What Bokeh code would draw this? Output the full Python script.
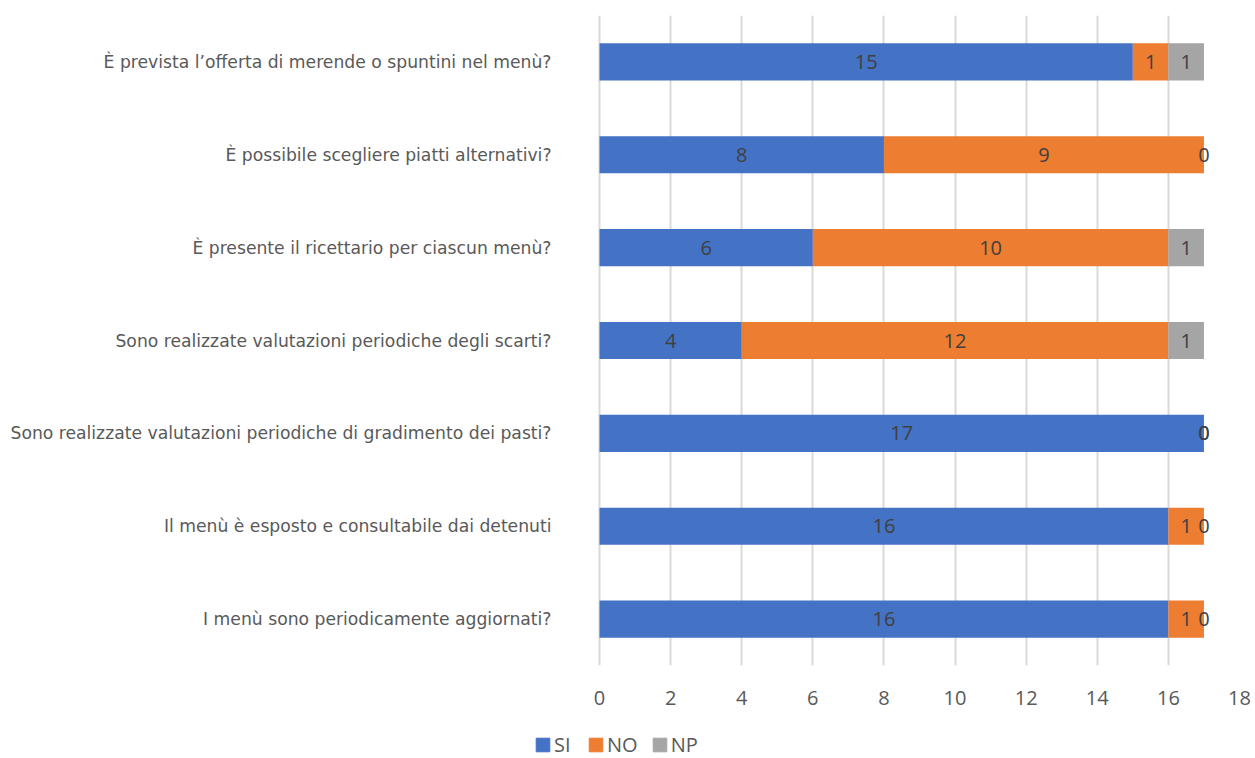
from bokeh.plotting import figure
from bokeh.layouts import column
from bokeh.models import ColumnDataSource, Legend, LegendItem, FixedTicker, Range1d, FactorRange
from bokeh.core.properties import value
from bokeh.embed import file_html
from bokeh.resources import INLINE

categories = [
    "È prevista l’offerta di merende o spuntini nel menù?",
    "È possibile scegliere piatti alternativi?",
    "È presente il ricettario per ciascun menù?",
    "Sono realizzate valutazioni periodiche degli scarti?",
    "Sono realizzate valutazioni periodiche di gradimento dei pasti?",
    "Il menù è esposto e consultabile dai detenuti",
    "I menù sono periodicamente aggiornati?",
]
si = [15, 8, 6, 4, 17, 16, 16]
no = [1, 9, 10, 12, 0, 1, 1]
np_ = [1, 0, 1, 1, 0, 0, 0]
series_names = ["SI", "NO", "NP"]
colors = ["#4472C4", "#ED7D31", "#A5A5A5"]
x_ticks = [0, 2, 4, 6, 8, 10, 12, 14, 16, 18]

y_factors = list(reversed(categories))

# frame starts a little left of zero so the legend below can line up with it
p = figure(width=1255, height=718, y_range=FactorRange(*y_factors, range_padding=0),
           x_range=Range1d(-1.8, 18), output_backend="svg", toolbar_location=None,
           min_border_left=535, min_border_right=16, min_border_top=15, min_border_bottom=53)
p.outline_line_color = None
p.background_fill_color = "white"
p.border_fill_color = "white"

src = ColumnDataSource(dict(cat=categories, SI=si, NO=no, NP=np_))
renderers = p.hbar_stack(series_names, y="cat", height=0.4, color=colors, source=src, line_color=None)

# data labels
lx, ly, lt = [], [], []
for i, c in enumerate(categories):
    vals = [si[i], no[i], np_[i]]
    left = 0
    for v in vals:
        lx.append(left + v / 2)
        ly.append(c)
        lt.append(str(v))
        left += v
p.text(x=lx, y=ly, text=lt, text_align="center", text_baseline="middle",
       text_color="#404040", text_font=value("Open Sans"), text_font_size="20px")

p.xaxis.ticker = FixedTicker(ticks=x_ticks)
p.xaxis.axis_line_color = None
p.xaxis.major_tick_line_color = None
p.xaxis.minor_tick_line_color = None
p.xaxis.major_label_text_font = "Open Sans"
p.xaxis.major_label_text_font_size = "20px"
p.xaxis.major_label_text_color = "#595959"
p.xaxis.major_label_standoff = 19

p.yaxis.axis_line_color = None
p.yaxis.major_tick_line_color = None
p.yaxis.minor_tick_line_color = None
p.yaxis.major_label_text_font = "DejaVu Sans"
p.yaxis.major_label_text_font_size = "17.2px"
p.yaxis.major_label_text_color = "#595959"
p.yaxis.major_label_standoff = -22

p.ygrid.grid_line_color = None
p.xgrid.grid_line_color = "#D9D9D9"
p.xgrid.grid_line_width = 2

# legend strip below the chart (frame aligned with the chart's frame)
lg = figure(width=1255, height=40, x_range=Range1d(0, 1), y_range=Range1d(0, 1),
            output_backend="svg", toolbar_location=None,
            min_border_left=535, min_border_right=16, min_border_top=0, min_border_bottom=0)
lg.axis.visible = False
lg.grid.visible = False
lg.outline_line_color = None
lg.border_fill_color = "white"
lg.background_fill_color = "white"
lg_renderers = [lg.rect(x=[-5], y=[-5], width=[0.1], height=[0.1], color=c) for c in colors]
legend = Legend(items=[LegendItem(label=n, renderers=[r]) for n, r in zip(series_names, lg_renderers)],
                orientation="horizontal", location=(-1, 0), label_text_font="Open Sans",
                label_text_font_size="20px", label_text_color="#595959", glyph_width=17, glyph_height=17,
                spacing=13, label_standoff=3, background_fill_alpha=0, border_line_color=None,
                padding=0, margin=0, label_height=16)
lg.add_layout(legend, "center")

layout = column(p, lg, spacing=0)
open("out.html", "w").write(file_html(layout, INLINE))
